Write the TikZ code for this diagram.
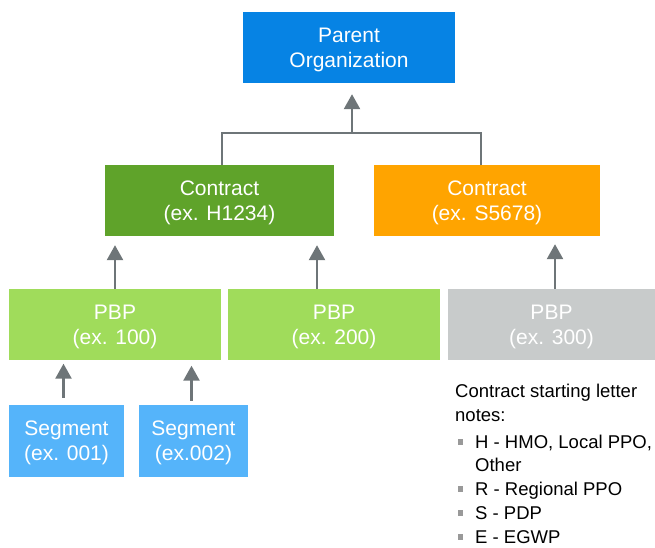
\documentclass[tikz,border=0pt]{standalone}
\usepackage{fontspec}
\setmainfont{Liberation Sans}
\usetikzlibrary{arrows.meta}

\definecolor{parentblue}{HTML}{0683E4}
\definecolor{contractgreen}{HTML}{5FA32A}
\definecolor{contractorange}{HTML}{FFA400}
\definecolor{pbpgreen}{HTML}{A0DC5B}
\definecolor{pbpgray}{HTML}{C8CBCB}
\definecolor{segblue}{HTML}{55B4FA}
\definecolor{linkgray}{HTML}{6E7578}
\definecolor{bulletgray}{HTML}{999999}

\newcommand{\notebullet}{\hspace*{2.5pt}\makebox[17.5pt][l]{\textcolor{bulletgray}{\raisebox{3.8pt}{\rule{5.5pt}{5.5pt}}}}}

\begin{document}
\begin{tikzpicture}[
        x=1pt, y=-1pt,
        box/.style={rectangle, fill=#1, text=white, inner sep=0pt, minimum height=71, align=center, font=\fontsize{21}{25}\selectfont, text depth=-2pt},
        notes/.style={inner sep=0pt, align=left, font=\fontsize{18.5}{24}\selectfont},
        link/.style={draw=linkgray, line width=2.5pt},
        arrow/.style={link, -{Triangle[width=16pt,length=15pt]}}
    ]
        \useasboundingbox (0,0) rectangle (655,548);

        % --- PARENT ---
        \node[box=parentblue, minimum width=212] (parent) at (349, 47.5) {Parent\\Organization};

        % --- CONTRACTS ---
        \node[box=contractgreen, minimum width=229] (ctrh) at (219.5, 200.5) {Contract\\(ex. H1234)};
        \node[box=contractorange, minimum width=226] (ctrs) at (487, 200.5) {Contract\\(ex. S5678)};

        % --- PBPS ---
        \node[box=pbpgreen, minimum width=212] (pbpa) at (115, 324.5) {PBP\\(ex. 100)};
        \node[box=pbpgreen, minimum width=212] (pbpb) at (334, 324.5) {PBP\\(ex. 200)};
        \node[box=pbpgray, minimum width=207] (pbpc) at (551.5, 324.5) {PBP\\(ex. 300)};

        % --- SEGMENTS ---
        \node[box=segblue, minimum width=115, minimum height=72] (sega) at (66.5, 441) {Segment\\(ex. 001)};
        \node[box=segblue, minimum width=109, minimum height=72] (segb) at (193.5, 441) {Segment\\(ex.002)};

        % --- NOTES ---
        \node[notes, anchor=north west] (notes) at (455, 384) {Contract starting letter\\
            notes:\\[3pt]
            \notebullet H - HMO, Local PPO,\\[-1pt]
            \hspace*{20pt}Other\\
            \notebullet R - Regional PPO\\
            \notebullet S - PDP\\
            \notebullet E - EGWP};

        % --- CONNECTIONS ---
        \coordinate (join) at (352, 133);
        \draw[link] ([xshift=2.5]ctrh.north) |- (join) -| ([xshift=-6]ctrs.north);
        \draw[arrow, shorten >=11] (join) -- (join |- parent.south);

        \draw[arrow, shorten >=9] (pbpa.north) -- (pbpa.north |- ctrh.south);
        \draw[arrow, shorten >=9] ([xshift=-17]pbpb.north) -- ([xshift=-17]pbpb.north |- ctrh.south);
        \draw[arrow, shorten >=8] ([xshift=3.5]pbpc.north) -- ([xshift=3.5]pbpc.north |- ctrs.south);

        \draw[arrow, shorten <=7, shorten >=3.5] ([xshift=-3]sega.north) -- ([xshift=-3]sega.north |- pbpa.south);
        \draw[arrow, shorten <=4, shorten >=5.5] ([xshift=-2]segb.north) -- ([xshift=-2]segb.north |- pbpa.south);

    \end{tikzpicture}
\end{document}
